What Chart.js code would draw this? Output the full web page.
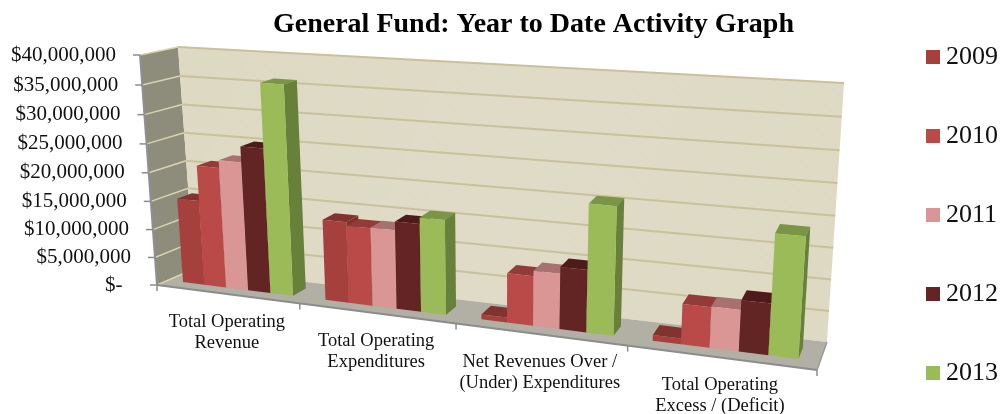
<!DOCTYPE html>
<html>
<head>
<meta charset="utf-8">
<title>General Fund</title>
<style>
    html, body { margin: 0; padding: 0; background: #fff; }
    #wrap { width: 1000px; height: 414px; }
</style>
<script src="https://cdn.jsdelivr.net/npm/chart.js@4"></script>
</head>
<body>
<div id="wrap"><canvas id="chart" width="1000" height="414"></canvas></div>
<script>
// Chart data
const categories = [
    ['Total Operating', 'Revenue'],
    ['Total Operating', 'Expenditures'],
    ['Net Revenues Over /', '(Under) Expenditures'],
    ['Total Operating', 'Excess / (Deficit)']
];
const years = ['2009', '2010', '2011', '2012', '2013'];
const values2009 = [15050000, 14000000, 840000, 940000];
const values2010 = [21200000, 13400000, 8300000, 6550000];
const values2011 = [22500000, 13500000, 9200000, 6650000];
const values2012 = [25200000, 14950000, 10300000, 8200000];
const values2013 = [36200000, 16050000, 21000000, 19100000];
// accounting format pads the dash with trailing spaces
const yTickLabels = ['$-  ', '$5,000,000', '$10,000,000', '$15,000,000', '$20,000,000',
    '$25,000,000', '$30,000,000', '$35,000,000', '$40,000,000'];

// Bar colours: front, side, top
const frontColors = ['#A5403D', '#B94A48', '#D99694', '#632523', '#9BBB59'];
const sideColors = ['#7E302E', '#8E3836', '#A86F6E', '#4A1B1A', '#67803A'];
const topColors = ['#823230', '#933B39', '#A87070', '#4E1B1A', '#7A9545'];

// Corners of the 3D box as it appears in the picture
const frontQuad = { tl: [140, 55], tr: [834, 103], bl: [157, 285], br: [817, 370] };
const backQuad = { tl: [178, 47], tr: [844, 83], bl: [194, 269], br: [827, 342] };
const xPerspective = 1.207;
const yPerspective = 1.05;
const barDepthFront = 0.30;
const barDepthBack = 0.70;

function lerp(a, b, t) { return a + (b - a) * t; }

function quadPoint(q, u, v) {
    const bx = lerp(q.bl[0], q.br[0], u), by = lerp(q.bl[1], q.br[1], u);
    const tx = lerp(q.tl[0], q.tr[0], u), ty = lerp(q.tl[1], q.tr[1], u);
    return [lerp(bx, tx, v), lerp(by, ty, v)];
}

// Chart pixel + depth (0 front, 1 back) to picture position
function project(chart, px, py, d) {
    const area = chart.chartArea;
    const rawU = (px - area.left) / (area.right - area.left);
    const rawV = (area.bottom - py) / (area.bottom - area.top);
    const u = rawU / (rawU + (1 - rawU) * xPerspective);
    const v = rawV / (rawV + (1 - rawV) * yPerspective);
    const f = quadPoint(frontQuad, u, v);
    const b = quadPoint(backQuad, u, v);
    return [lerp(f[0], b[0], d), lerp(f[1], b[1], d)];
}

function poly(ctx, pts, fill) {
    ctx.beginPath();
    pts.forEach((p, i) => i ? ctx.lineTo(p[0], p[1]) : ctx.moveTo(p[0], p[1]));
    ctx.closePath();
    ctx.fillStyle = fill;
    ctx.fill();
}

function line(ctx, a, b, color, width) {
    ctx.beginPath();
    ctx.moveTo(a[0], a[1]);
    ctx.lineTo(b[0], b[1]);
    ctx.strokeStyle = color;
    ctx.lineWidth = width;
    ctx.stroke();
}

function drawWalls(chart) {
    const ctx = chart.ctx;
    const { left, right } = chart.chartArea;
    const yScale = chart.scales.y;
    const xScale = chart.scales.x;
    const base = yScale.getPixelForValue(0);
    const top = yScale.getPixelForValue(40000000);

    // side wall, back wall, floor
    poly(ctx, [project(chart, left, top, 0), project(chart, left, top, 1),
        project(chart, left, base, 1), project(chart, left, base, 0)], '#8E8C7B');
    const grad = ctx.createLinearGradient(178, 47, 844, 342);
    grad.addColorStop(0, '#DDD9C3');
    grad.addColorStop(0.5, '#DFDBC6');
    grad.addColorStop(1, '#DDD9C3');
    poly(ctx, [project(chart, left, top, 1), project(chart, right, top, 1),
        project(chart, right, base, 1), project(chart, left, base, 1)], grad);
    poly(ctx, [project(chart, left, base, 1), project(chart, right, base, 1),
        project(chart, right, base, 0), project(chart, left, base, 0)], '#B2AFA5');

    // gridlines and tick labels on the value axis
    ctx.textAlign = 'right';
    ctx.textBaseline = 'middle';
    ctx.font = '21px "Liberation Serif"';
    yScale.ticks.forEach((tick, i) => {
        const y = yScale.getPixelForTick(i);
        const front = project(chart, left, y, 0);
        const back = project(chart, left, y, 1);
        line(ctx, front, back, '#D9D3AE', 1.5);
        if (i > 0) line(ctx, back, project(chart, right, y, 1), '#C9C19C', 2);
        line(ctx, [front[0] - 7, front[1]], front, '#8C8C90', 1.5);
        ctx.fillStyle = '#111';
        ctx.fillText(tick.label, front[0] - 24, front[1]);
    });

    // front edges
    line(ctx, project(chart, left, top, 0), project(chart, left, base, 0), '#8F8F98', 2);
    line(ctx, project(chart, left, base, 0), project(chart, right, base, 0), '#8C8C8C', 2);
    line(ctx, project(chart, right, base, 0), project(chart, right, base, 1), '#9A9A9A', 1.5);

    // category ticks and labels
    categories.forEach((cat, i) => {
        const p = project(chart, xScale.getPixelForValue(i + 0.5), base, 0);
        line(ctx, p, [p[0], p[1] + 6], '#8C8C8C', 1.5);
    });
    const first = project(chart, xScale.getPixelForValue(-0.5), base, 0);
    line(ctx, first, [first[0], first[1] + 6], '#8C8C8C', 1.5);

    ctx.textAlign = 'center';
    ctx.font = '18.5px "Liberation Serif"';
    ctx.fillStyle = '#111';
    categories.forEach((cat, i) => {
        const p = project(chart, xScale.getPixelForTick(i), base, 0);
        cat.forEach((text, n) => ctx.fillText(text, p[0], p[1] + 28 + n * 21));
    });
}

function drawBars(chart) {
    const ctx = chart.ctx;
    chart.data.datasets.forEach((ds, di) => {
        chart.getDatasetMeta(di).data.forEach(bar => {
            const x0 = bar.x - bar.width / 2, x1 = bar.x + bar.width / 2;
            const yt = bar.y, yb = bar.base;
            const df = barDepthFront, db = barDepthBack;
            poly(ctx, [project(chart, x0, yt, df), project(chart, x1, yt, df),
                project(chart, x1, yt, db), project(chart, x0, yt, db)], topColors[di]);
            poly(ctx, [project(chart, x1, yt, df), project(chart, x1, yt, db),
                project(chart, x1, yb, db), project(chart, x1, yb, df)], sideColors[di]);
            poly(ctx, [project(chart, x0, yt, df), project(chart, x1, yt, df),
                project(chart, x1, yb, df), project(chart, x0, yb, df)], frontColors[di]);
        });
    });
}

function drawLegend(chart) {
    const ctx = chart.ctx;
    ctx.textAlign = 'left';
    ctx.textBaseline = 'middle';
    ctx.font = '26px "Liberation Serif"';
    years.forEach((year, i) => {
        const y = 57 + i * 79;
        ctx.fillStyle = frontColors[i];
        ctx.fillRect(926, y - 7, 14, 14);
        ctx.fillStyle = '#111';
        ctx.fillText(year, 946, y);
    });
}

// Excel style 3D box, drawn from the bar elements Chart.js has laid out
const box3d = {
    id: 'box3d',
    beforeDatasetsDraw(chart) {
        drawWalls(chart);
        drawBars(chart);
        drawLegend(chart);
        return false;
    }
};

new Chart(document.getElementById('chart'), {
    type: 'bar',
    data: {
        labels: categories,
        datasets: [values2009, values2010, values2011, values2012, values2013].map((values, i) => ({
            label: years[i],
            data: values,
            backgroundColor: frontColors[i],
            categoryPercentage: 0.78,
            barPercentage: 1
        }))
    },
    options: {
        responsive: false,
        animation: false,
        layout: { padding: { left: 146, right: 87, top: 8, bottom: 0 } },
        plugins: {
            legend: { display: false },
            tooltip: { enabled: false },
            title: {
                display: true,
                text: 'General Fund: Year to Date Activity Graph',
                fullSize: false,
                color: '#000',
                font: { family: '"Liberation Serif"', size: 28, weight: 'bold' },
                padding: { top: 0, bottom: 13 }
            }
        },
        scales: {
            x: {
                grid: { display: false },
                border: { display: false },
                ticks: { display: false },
                afterFit(scale) { scale.height = 130; }
            },
            y: {
                min: 0,
                max: 40000000,
                grid: { display: false },
                border: { display: false },
                ticks: {
                    display: false,
                    stepSize: 5000000,
                    callback: (value, index) => yTickLabels[index]
                }
            }
        }
    },
    plugins: [box3d]
});
</script>
</body>
</html>
